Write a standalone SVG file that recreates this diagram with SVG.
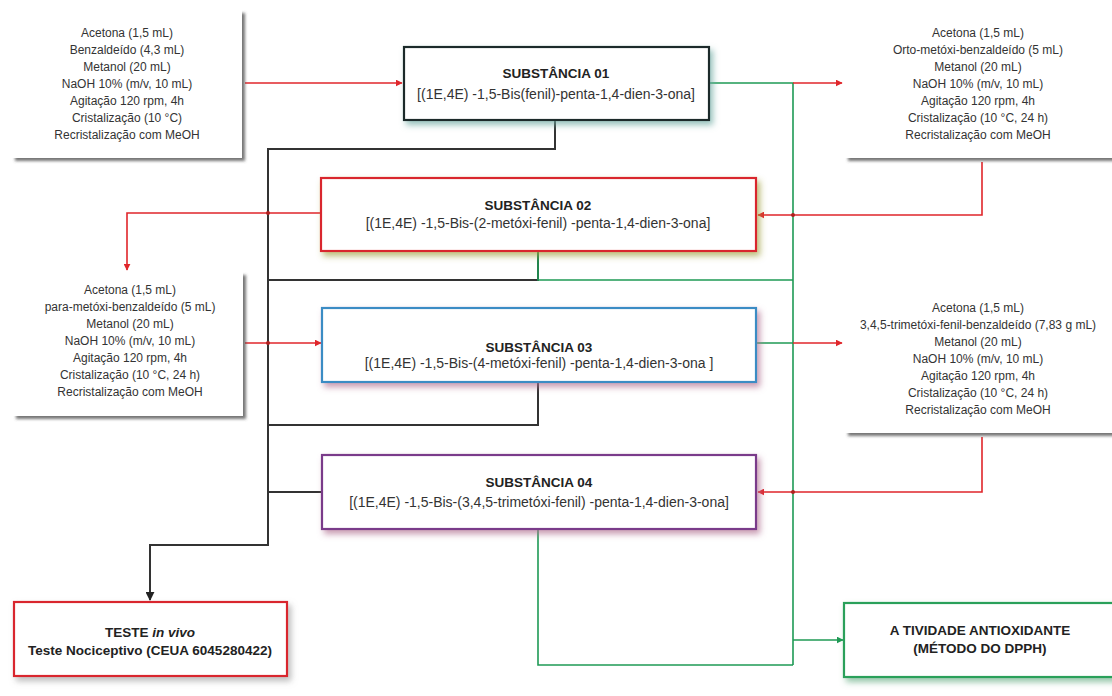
<svg xmlns="http://www.w3.org/2000/svg" width="1112" height="696" viewBox="0 0 1112 696">
<defs>
<filter id="sh" x="-10%" y="-10%" width="125%" height="130%"><feDropShadow dx="3" dy="3" stdDeviation="1.5" flood-color="#555" flood-opacity="0.8"/></filter>
<filter id="glowTeal" x="-10%" y="-20%" width="125%" height="150%"><feDropShadow dx="3" dy="4" stdDeviation="3" flood-color="#6aa8a0" flood-opacity="0.7"/></filter>
<filter id="glowOlive" x="-10%" y="-20%" width="125%" height="150%"><feDropShadow dx="3" dy="4" stdDeviation="3" flood-color="#a0a040" flood-opacity="0.7"/></filter>
<filter id="glowPink" x="-10%" y="-20%" width="125%" height="150%"><feDropShadow dx="3" dy="4" stdDeviation="3" flood-color="#b07090" flood-opacity="0.7"/></filter>
<filter id="glowGrey" x="-10%" y="-20%" width="125%" height="150%"><feDropShadow dx="3" dy="4" stdDeviation="3" flood-color="#909090" flood-opacity="0.6"/></filter>
<filter id="glowGreen" x="-10%" y="-20%" width="125%" height="150%"><feDropShadow dx="3" dy="4" stdDeviation="3" flood-color="#50a070" flood-opacity="0.6"/></filter>
<marker id="ar" viewBox="0 0 10 10" refX="9" refY="5" markerWidth="7" markerHeight="7" orient="auto" markerUnits="userSpaceOnUse"><path d="M0,0 L10,5 L0,10 z" fill="#e0262b"/></marker>
<marker id="ag" viewBox="0 0 10 10" refX="9" refY="5" markerWidth="7" markerHeight="7" orient="auto" markerUnits="userSpaceOnUse"><path d="M0,0 L10,5 L0,10 z" fill="#1f9a55"/></marker>
<marker id="ab" viewBox="0 0 10 10" refX="9" refY="5" markerWidth="9" markerHeight="9" orient="auto" markerUnits="userSpaceOnUse"><path d="M0,0 L10,5 L0,10 z" fill="#222"/></marker>
</defs>
<style>
.cond{fill:#fff;filter:url(#sh)}
.ct{font-family:"Liberation Sans",Arial,sans-serif;font-size:12px;fill:#333;text-anchor:middle}
.sub{fill:#fff;stroke-width:2.2}
.t1{font-family:"Liberation Sans",Arial,sans-serif;font-size:13.5px;font-weight:bold;fill:#222;text-anchor:middle}
.t2{font-family:"Liberation Sans",Arial,sans-serif;font-size:14px;fill:#333;text-anchor:middle}
.red{stroke:#e0262b;stroke-width:1.6;fill:none}
.grn{stroke:#1f9a55;stroke-width:1.6;fill:none}
.blk{stroke:#333;stroke-width:2;fill:none}
.dot{fill:#b02020}
</style>
<rect width="1112" height="696" fill="#fff"/>

<g id="connectors">
<path class="blk" d="M555,120 V149 H268 V545 H150 V600" marker-end="url(#ab)"/>
<path class="blk" d="M538,252 V280 H268"/>
<path class="blk" d="M538,382 V425 H268"/>
<path class="blk" d="M268,492 H322"/>
<path class="grn" d="M538,252 V280 H793"/>
<path class="grn" d="M709,83 H793 V665"/>
<path class="grn" d="M757,343 H793"/>
<path class="grn" d="M538,529 V665 H793"/>
<path class="grn" d="M793,640 H843" marker-end="url(#ag)"/>
<path class="red" d="M245,83 H402" marker-end="url(#ar)"/>
<path class="red" d="M793,83 H842" marker-end="url(#ar)"/>
<path class="red" d="M982,162 V215 H758" marker-end="url(#ar)"/>
<path class="red" d="M320,213 H127 V270" marker-end="url(#ar)"/>
<path class="red" d="M245,343 H321" marker-end="url(#ar)"/>
<path class="red" d="M793,343 H842" marker-end="url(#ar)"/>
<path class="red" d="M982,437 V492 H758" marker-end="url(#ar)"/>
<circle class="dot" cx="268" cy="213" r="2"/>
<circle class="dot" cx="793" cy="215" r="2"/>
<circle class="dot" cx="268" cy="343" r="2"/>
<circle class="dot" cx="793" cy="492" r="2"/>
</g>

<g id="cond1">
<rect class="cond" x="12" y="10" width="230" height="148"/>
<text class="ct" x="127" y="37">Acetona (1,5 mL)</text>
<text class="ct" x="127" y="54">Benzaldeído (4,3 mL)</text>
<text class="ct" x="127" y="71">Metanol (20 mL)</text>
<text class="ct" x="127" y="88">NaOH 10% (m/v, 10 mL)</text>
<text class="ct" x="127" y="105">Agitação 120 rpm, 4h</text>
<text class="ct" x="127" y="122">Cristalização (10 °C)</text>
<text class="ct" x="127" y="139">Recristalização com MeOH</text>
</g>

<g id="cond2">
<rect class="cond" x="845" y="10" width="280" height="148"/>
<text class="ct" x="978" y="37">Acetona (1,5 mL)</text>
<text class="ct" x="978" y="54">Orto-metóxi-benzaldeído (5 mL)</text>
<text class="ct" x="978" y="71">Metanol (20 mL)</text>
<text class="ct" x="978" y="88">NaOH 10% (m/v, 10 mL)</text>
<text class="ct" x="978" y="105">Agitação 120 rpm, 4h</text>
<text class="ct" x="978" y="122">Cristalização (10 °C, 24 h)</text>
<text class="ct" x="978" y="139">Recristalização com MeOH</text>
</g>

<g id="cond3">
<rect class="cond" x="13" y="272" width="230" height="144"/>
<text class="ct" x="130" y="294">Acetona (1,5 mL)</text>
<text class="ct" x="130" y="311">para-metóxi-benzaldeído (5 mL)</text>
<text class="ct" x="130" y="328">Metanol (20 mL)</text>
<text class="ct" x="130" y="345">NaOH 10% (m/v, 10 mL)</text>
<text class="ct" x="130" y="362">Agitação 120 rpm, 4h</text>
<text class="ct" x="130" y="379">Cristalização (10 °C, 24 h)</text>
<text class="ct" x="130" y="396">Recristalização com MeOH</text>
</g>

<g id="cond4">
<rect class="cond" x="845" y="288" width="280" height="145"/>
<text class="ct" x="978" y="312">Acetona (1,5 mL)</text>
<text class="ct" x="978" y="329">3,4,5-trimetóxi-fenil-benzaldeído (7,83 g mL)</text>
<text class="ct" x="978" y="346">Metanol (20 mL)</text>
<text class="ct" x="978" y="363">NaOH 10% (m/v, 10 mL)</text>
<text class="ct" x="978" y="380">Agitação 120 rpm, 4h</text>
<text class="ct" x="978" y="397">Cristalização (10 °C, 24 h)</text>
<text class="ct" x="978" y="414">Recristalização com MeOH</text>
</g>

<g id="s01">
<rect class="sub" x="404" y="47" width="305" height="73" stroke="#1e2b2b" filter="url(#glowTeal)"/>
<text class="t1" x="556" y="78">SUBSTÂNCIA 01</text>
<text class="t2" x="556" y="99">[(1E,4E) -1,5-Bis(fenil)-penta-1,4-dien-3-ona]</text>
</g>

<g id="s02">
<rect class="sub" x="321" y="178" width="435" height="73" stroke="#d9282f" filter="url(#glowOlive)"/>
<text class="t1" x="538" y="210">SUBSTÂNCIA 02</text>
<text class="t2" x="538" y="228">[(1E,4E) -1,5-Bis-(2-metóxi-fenil) -penta-1,4-dien-3-ona]</text>
</g>

<g id="s03">
<rect class="sub" x="322" y="308" width="434" height="74" stroke="#3a8cc4" filter="url(#glowPink)"/>
<text class="t1" x="539" y="352">SUBSTÂNCIA 03</text>
<text class="t2" x="539" y="368">[(1E,4E) -1,5-Bis-(4-metóxi-fenil) -penta-1,4-dien-3-ona ]</text>
</g>

<g id="s04">
<rect class="sub" x="322" y="455" width="434" height="74" stroke="#7a3a8a" filter="url(#glowPink)"/>
<text class="t1" x="539" y="487">SUBSTÂNCIA 04</text>
<text class="t2" x="539" y="507">[(1E,4E) -1,5-Bis-(3,4,5-trimetóxi-fenil) -penta-1,4-dien-3-ona]</text>
</g>

<g id="teste">
<rect class="sub" x="14" y="602" width="273" height="74" stroke="#d9282f" filter="url(#glowGrey)"/>
<text class="t1" x="150" y="637">TESTE <tspan font-style="italic">in vivo</tspan></text>
<text class="t1" x="150" y="655">Teste Nociceptivo (CEUA 6045280422)</text>
</g>

<g id="atividade">
<rect class="sub" x="844" y="603" width="280" height="74" stroke="#2aa05a" filter="url(#glowGreen)"/>
<text class="t1" x="980" y="635">A TIVIDADE ANTIOXIDANTE</text>
<text class="t1" x="980" y="653">(MÉTODO DO DPPH)</text>
</g>
</svg>
